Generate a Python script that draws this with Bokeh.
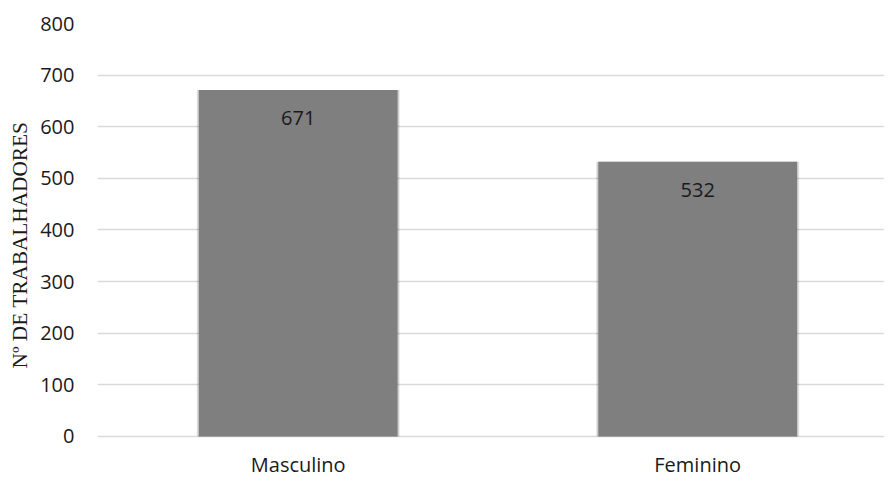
from bokeh.plotting import figure
from bokeh.models import ColumnDataSource, Range1d, FixedTicker, LabelSet, Title
from bokeh.core.properties import value
from bokeh.embed import file_html
from bokeh.resources import INLINE

categories = ["Masculino", "Feminino"]
values = [671, 532]
y_ticks = [0, 100, 200, 300, 400, 500, 600, 700, 800]
y_title = "Nº DE TRABALHADORES"

xs = list(range(len(categories)))
src = ColumnDataSource(dict(x=xs, top=values, label=[str(v) for v in values],
                            cat=categories, base=[0] * len(categories)))

# frame spans 23..478 px; value 0 sits at 436 px (0.51625 px per unit)
p = figure(width=884, height=478, output_backend="svg", toolbar_location=None,
           x_range=Range1d(-0.5025, 1.4677), y_range=Range1d(-81.4, 800),
           min_border_left=92, min_border_right=0, min_border_top=23, min_border_bottom=0)
p.outline_line_color = None
p.background_fill_color = "white"
p.border_fill_color = "white"

px = 1.0 / 402.0
# soft shadow layers
for k, a in [(4, 0.05), (3, 0.07), (2, 0.09)]:
    p.vbar(x="x", top="top", width=0.4975 + 2 * k * px * 0.6, bottom=0, source=src,
           fill_color="black", fill_alpha=a, line_color=None)
p.vbar(x="x", top="top", width=0.4975, bottom=0, source=src,
       fill_color="#7f7f7f", line_color=None)

labels = LabelSet(x="x", y="top", text="label", source=src, y_offset=-28,
                  text_align="center", text_baseline="middle",
                  text_font=value("Open Sans"), text_font_size="20px", text_color="#1a1a1a")
p.add_layout(labels)

cat_labels = LabelSet(x="x", y="base", text="cat", source=src, y_offset=-36,
                      text_align="center", text_baseline="alphabetic",
                      text_font=value("Open Sans"), text_font_size="20px", text_color="#1a1a1a")
p.add_layout(cat_labels)

p.xgrid.grid_line_color = None
p.ygrid.grid_line_color = "#d9d9d9"
p.ygrid.grid_line_width = 1.3
p.ygrid.level = "underlay"

p.yaxis.ticker = FixedTicker(ticks=y_ticks)
p.xaxis.visible = False

ax = p.yaxis[0]
ax.axis_line_color = None
ax.major_tick_line_color = None
ax.minor_tick_line_color = None
ax.major_tick_out = 0
ax.minor_tick_out = 0
ax.major_label_text_font = "Open Sans"
ax.major_label_text_font_size = "20px"
ax.major_label_text_color = "#1a1a1a"
ax.major_label_standoff = 23

t = Title(text=y_title, align="left", offset=110, standoff=11,
          text_font="Liberation Serif", text_font_style="normal",
          text_font_size="21.3px", text_color="#1a1a1a")
p.add_layout(t, "left")

open("out.html", "w").write(file_html(p, INLINE))
